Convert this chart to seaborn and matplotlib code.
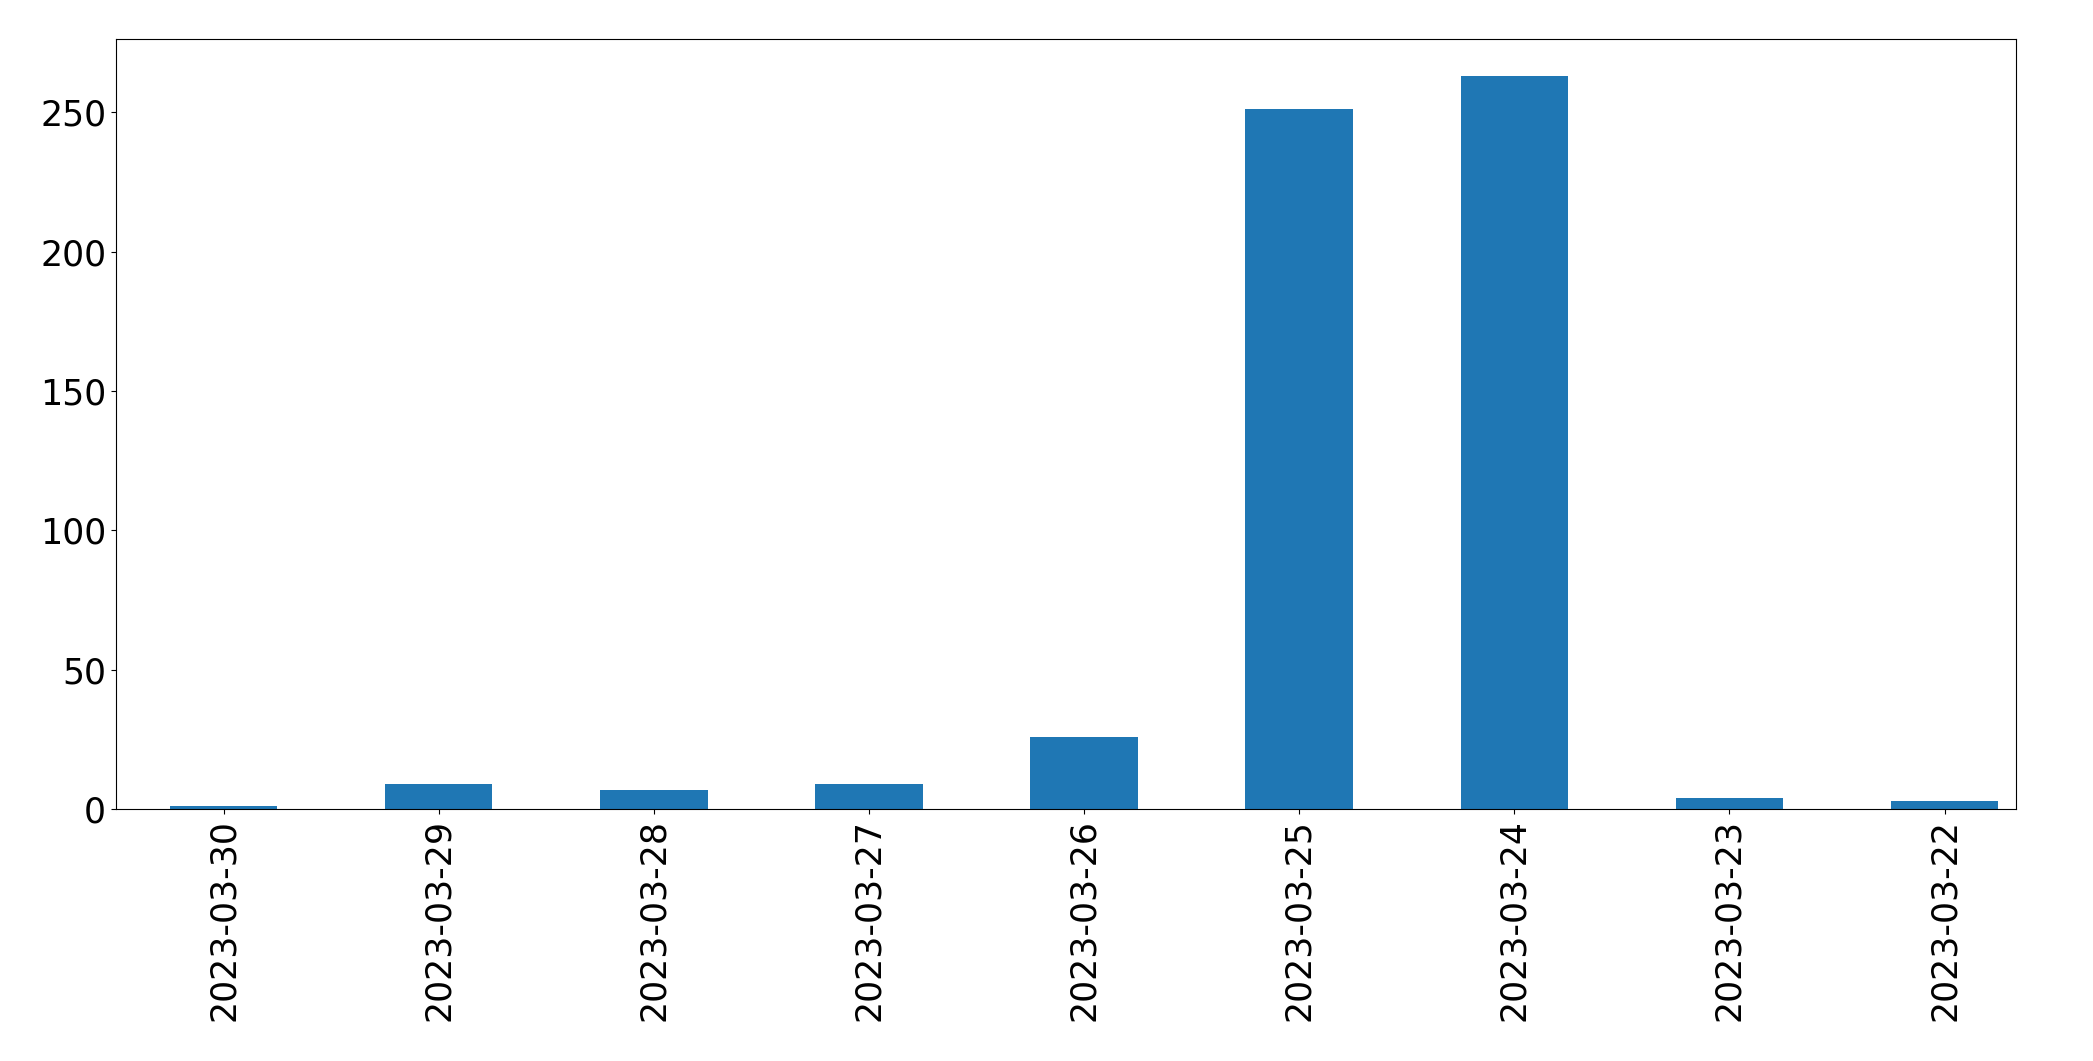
import matplotlib
matplotlib.use("Agg")
import matplotlib.pyplot as plt
import seaborn as sns
import pandas as pd

# Counts per day, in the order shown (newest first)
dates = ["2023-03-30", "2023-03-29", "2023-03-28", "2023-03-27", "2023-03-26",
         "2023-03-25", "2023-03-24", "2023-03-23", "2023-03-22"]
counts = [1, 9, 7, 9, 26, 251, 263, 4, 3]

df = pd.DataFrame({"date": dates, "count": counts})

fig = plt.figure(figsize=(20.93, 10.61), dpi=100)
fig.patch.set_facecolor("white")
ax = fig.add_axes([0.0554, 0.2375, 0.9076, 0.7255])

sns.barplot(data=df, x="date", y="count", order=dates, color="#1f77b4",
            saturation=1, width=0.5, ax=ax)

ax.set_xlim(-0.5, len(dates) - 0.67)
ax.set_xlabel("")
ax.set_ylabel("")
ax.tick_params(axis="both", labelsize=25)
ax.tick_params(axis="x", labelrotation=90)

plt.savefig("out.png", dpi=100)
plt.close()
